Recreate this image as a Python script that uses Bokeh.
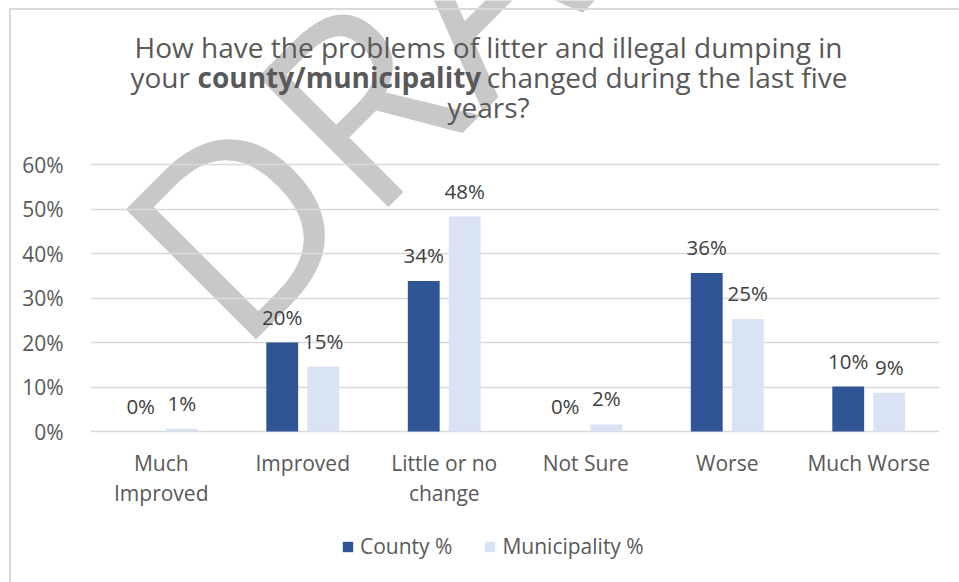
from bokeh.plotting import figure
from bokeh.models import (FactorRange, Range1d, Label, Legend, InlineStyleSheet,
                          LegendItem, FixedTicker, ColumnDataSource)
from bokeh.transform import dodge
from bokeh.embed import file_html
from bokeh.resources import INLINE
from bokeh.core.properties import value

# ---- data ----
categories = ["Much\nImproved", "Improved", "Little or no\nchange", "Not Sure", "Worse", "Much Worse"]
county = [0.0, 20.0, 33.8, 0.0, 35.6, 10.1]
municipality = [0.6, 14.6, 48.3, 1.6, 25.3, 8.7]
y_ticks = [0, 10, 20, 30, 40, 50, 60]
series_names = ["County %", "Municipality %"]

FONT = "Open Sans"
GRAY = "#595959"
C_DARK = "#2F5597"
C_LIGHT = "#DAE3F3"

# plot-area geometry (canvas pixels): value axis 0..60 spans y 431..164;
# the frame itself covers the full canvas height so titles/legend are not clipped
W, H = 959, 582
FL, FR, GT, GB = 90, 939, 164, 431
Y_MAX = 60
PX = (GB - GT) / Y_MAX
Y_TOP = Y_MAX + GT / PX
Y_BOT = -(H - GB) / PX


def sx(cx):
    return cx - FL


def sy(cy):
    return H - cy


src = ColumnDataSource(dict(
    cat=categories,
    county=county,
    muni=municipality,
    county_lbl=[f"{round(v)}%" for v in county],
    muni_lbl=[f"{round(v)}%" for v in municipality],
))

p = figure(width=W, height=H, output_backend="svg", toolbar_location=None,
           x_range=FactorRange(*categories, range_padding=0, factor_padding=0),
           y_range=Range1d(Y_BOT, Y_TOP),
           min_border_left=FL, min_border_right=W - FR, min_border_top=0,
           min_border_bottom=0)
p.outline_line_color = None
p.background_fill_color = "white"
p.border_fill_color = "white"
p.stylesheets = [InlineStyleSheet(css="""
:host::after { content: ""; position: absolute; left: 9px; top: 8px; right: 0; bottom: 0;
  border-left: 2px solid #d9d9d9; border-top: 2px solid #d9d9d9; pointer-events: none; }
""")]

# watermark
p.add_layout(Label(x=sx(167), y=sy(286), x_units="screen", y_units="screen", text="DRAFT",
                   angle=45, angle_units="deg", text_font=FONT, text_font_size="258px",
                   text_color="#c8c8c8", text_baseline="alphabetic", text_align="left",
                   level="image"))

w = 0.225
r1 = p.vbar(x=dodge("cat", -0.145, range=p.x_range), top="county", width=w, source=src,
            fill_color=C_DARK, line_color=None)
r2 = p.vbar(x=dodge("cat", 0.145, range=p.x_range), top="muni", width=w, source=src,
            fill_color=C_LIGHT, line_color=None)

for col, lbl, off in (("county", "county_lbl", -0.145), ("muni", "muni_lbl", 0.145)):
    p.text(x=dodge("cat", off, range=p.x_range), y=col, text=lbl, source=src,
           text_align="center", text_baseline="alphabetic", y_offset=-26,
           text_font=value(FONT), text_font_size="20.5px", text_color="#404040")

# axes
p.yaxis.ticker = FixedTicker(ticks=y_ticks)
p.yaxis.major_label_overrides = {t: f"{t}%" for t in y_ticks}
p.xaxis.fixed_location = 0
for ax in (p.xaxis[0], p.yaxis[0]):
    ax.axis_line_color = None
    ax.major_tick_line_color = None
    ax.minor_tick_line_color = None
    ax.major_label_text_font = FONT
    ax.major_label_text_font_size = "21px"
    ax.major_label_text_color = GRAY
p.yaxis.major_label_standoff = 21
p.xaxis.major_label_standoff = 11
p.xaxis.major_label_text_line_height = 1.08

p.xgrid.grid_line_color = None
p.ygrid.grid_line_color = "#d9d9d9"
p.ygrid.grid_line_width = 1.5

# title (three lines, middle one with bold words)
tkw = dict(x_units="screen", y_units="screen", text_font=FONT, text_font_size="28px",
           text_color=GRAY, text_baseline="alphabetic")
p.add_layout(Label(x=sx(488), y=sy(46), text="How have the problems of litter and illegal dumping in",
                   text_align="center", **tkw))
p.add_layout(Label(x=sx(130), y=sy(76), text="your", text_align="left", **tkw))
p.add_layout(Label(x=sx(197), y=sy(76), text="county/municipality", text_align="left",
                   text_font_style="bold", **tkw))
p.add_layout(Label(x=sx(847), y=sy(76), text="changed during the last five", text_align="right", **tkw))
p.add_layout(Label(x=sx(488), y=sy(106), text="years?", text_align="center", **tkw))

legend = Legend(items=[LegendItem(label=series_names[0], renderers=[r1]),
                       LegendItem(label=series_names[1], renderers=[r2])],
                orientation="horizontal", location=(sx(341), sy(560)),
                label_text_font=FONT, label_text_font_size="21px", label_text_color=GRAY,
                glyph_width=13, glyph_height=13, spacing=31, label_standoff=6,
                border_line_color=None, background_fill_alpha=0, margin=0, padding=5)
p.add_layout(legend, "center")

open("out.html", "w").write(file_html(p, INLINE))
